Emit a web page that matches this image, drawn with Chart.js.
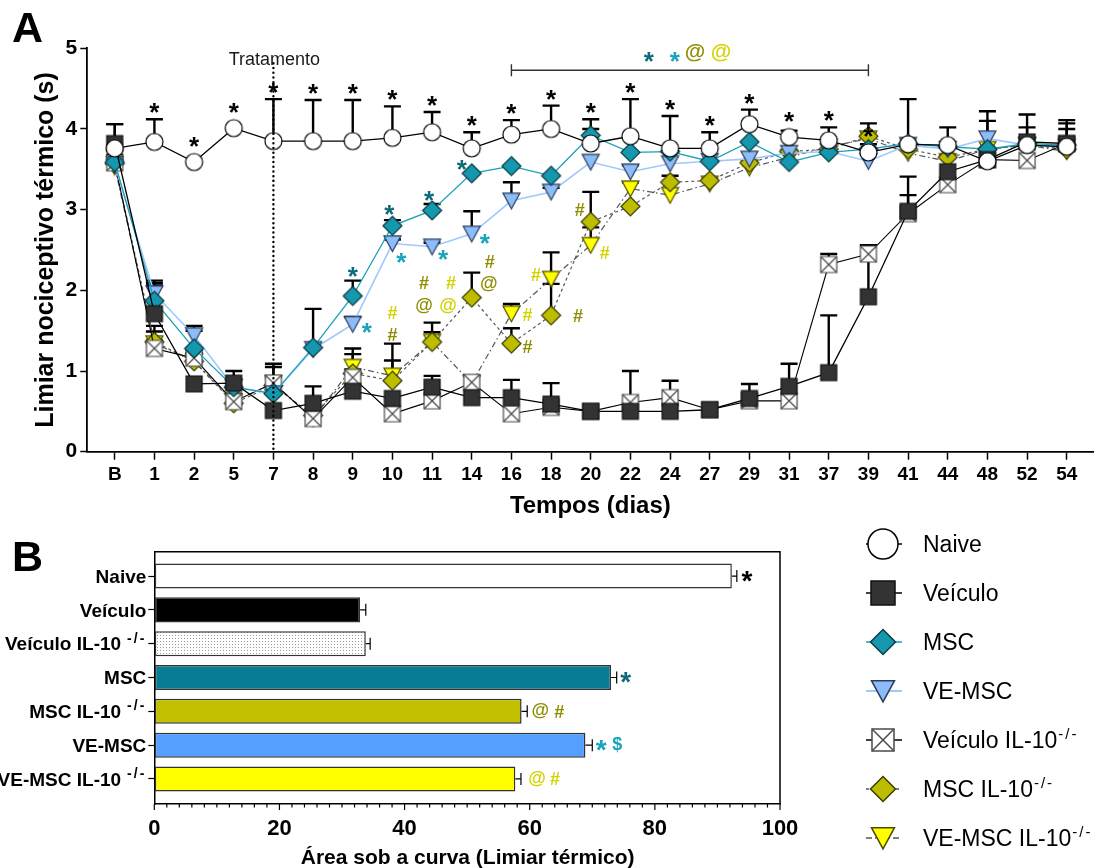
<!DOCTYPE html>
<html>
<head>
<meta charset="utf-8">
<script src="https://cdn.jsdelivr.net/npm/chart.js@4/dist/chart.umd.min.js"></script>
<style>
  html, body { margin: 0; padding: 0; background: #ffffff; }
  body { width: 1103px; height: 868px; position: relative; overflow: hidden; }
  #wrapA { position: absolute; left: 0; top: 0; width: 1103px; height: 520px; }
  #wrapB { position: absolute; left: 0; top: 520px; width: 1103px; height: 348px; }
</style>
</head>
<body>
<div id="wrapA"><canvas id="chartA"></canvas></div>
<div id="wrapB"><canvas id="chartB"></canvas></div>
<script>
const FONT = '"Liberation Sans", Arial, Helvetica, sans-serif';

// ---- Panel A: thermal nociceptive threshold over time (mean, upper SEM) ----
const days = ['B','1','2','5','7','8','9','10','11','14','16','18','20','22','24','27','29','31','37','39','41','44','48','52','54'];
const yTicks = [0, 1, 2, 3, 4, 5];

const naive      = [3.76,3.84,3.59,4.01,3.85,3.85,3.85,3.89,3.96,3.76,3.93,4.00,3.82,3.91,3.76,3.76,4.06,3.90,3.86,3.71,3.81,3.80,3.60,3.80,3.78];
const naiveSem   = [0.30,0.28,0,0,0.52,0.51,0.51,0.39,0.25,0.20,0.18,0.29,0.30,0.46,0.40,0.20,0.18,0.08,0.16,0.10,0.56,0.22,0.50,0.38,0.33];

const veiculo    = [3.82,1.71,0.84,0.85,0.51,0.60,0.75,0.66,0.80,0.67,0.67,0.59,0.50,0.50,0.50,0.52,0.66,0.81,0.98,1.92,2.98,3.47,3.62,3.84,3.82];
const veiculoSem = [0.24,0.41,0,0.15,0,0.21,0,0,0.14,0,0.22,0.26,0,0,0,0,0.18,0.28,0.71,0.64,0.20,0,0,0.18,0.25];

const msc        = [3.59,1.87,1.28,0.80,0.72,1.29,1.93,2.80,2.99,3.45,3.54,3.42,3.92,3.71,3.72,3.60,3.84,3.59,3.71,3.75,3.82,3.78,3.75,3.82,3.80];
const mscSem     = [0,0.22,0.22,0.10,0.20,0.48,0.19,0.07,0.08,0,0,0,0.08,0,0,0,0,0,0,0,0,0,0,0,0.20];

const veMsc      = [3.56,1.96,1.44,0.80,0.72,1.27,1.58,2.58,2.54,2.70,3.11,3.22,3.59,3.47,3.57,3.60,3.63,3.70,3.72,3.60,3.80,3.75,3.88,3.80,3.78];
const veMscSem   = [0,0.10,0.12,0,0,0,0.09,0.05,0.05,0.28,0.23,0.05,0,0.08,0,0,0,0,0,0,0,0,0.34,0,0];

const veiculoKO    = [3.58,1.28,1.16,0.62,0.85,0.41,0.92,0.47,0.63,0.86,0.47,0.55,0.50,0.61,0.67,0.52,0.63,0.63,2.32,2.45,2.95,3.31,3.62,3.61,3.82];
const veiculoKOSem = [0.10,0.10,0.10,0.10,0.24,0,0.10,0,0,0,0,0,0,0.39,0.21,0,0,0,0.13,0.11,0.46,0,0,0,0];

const mscKO      = [3.57,1.36,1.12,0.60,0.82,0.45,0.97,0.88,1.36,1.91,1.34,1.69,2.85,3.04,3.34,3.36,3.58,3.72,3.75,3.91,3.75,3.65,3.75,3.80,3.75];
const mscKOSem   = [0,0.20,0.10,0,0,0,0.24,0.46,0.24,0.31,0.19,0.39,0.37,0,0.08,0,0,0,0,0.16,0,0,0,0,0];

const veMscKO    = [3.53,1.34,1.12,0.62,0.85,0.41,1.05,0.94,1.36,0.85,1.71,2.14,2.56,3.26,3.18,3.32,3.52,3.65,3.78,3.88,3.70,3.60,3.75,3.80,3.72];
const veMscKOSem = [0,0.15,0.10,0,0.20,0,0.23,0.19,0.12,0.09,0.12,0.33,0.22,0.08,0,0,0,0,0,0,0,0,0,0,0];

// significance marks (days)
const naiveStarDays = ['1','2','5','7','8','9','10','11','14','16','18','20','22','24','27','29','31','37','39'];
const mscStarDays   = ['9','10','11','14'];
const veMscStarDays = ['9','10','11','14'];
const mscKOMarks    = [['10','#'],['11','#'],['11','@'],['14','#'],['14','@'],['16','#'],['18','#'],['20','#']];
const veMscKOMarks  = [['10','#'],['11','#'],['11','@'],['16','#'],['18','#'],['20','#']];
const bracketDays   = ['16','39'];
const bracketMarks  = ['*','*','@','@'];

// ---- Panel B: area under the curve ----
const groups   = ['Naive','Veículo','Veículo IL-10','MSC','MSC IL-10','VE-MSC','VE-MSC IL-10'];
const groupSup = ['','','-/-','','-/-','','-/-'];
const auc      = [92.3, 32.9, 33.8, 73.0, 58.7, 68.9, 57.7];
const aucSem   = [0.8, 0.9, 0.7, 0.9, 0.9, 1.1, 0.9];
const aucTicks = [0, 20, 40, 60, 80, 100];
const aucMarks = [['*'], [], [], ['*'], ['@','#'], ['*','$'], ['@','#']];

// ---- styles ----
const COL = { tealDark: '#0e6a7b', teal: '#1aa3ba', olive: '#8e8e00', yellow: '#d3d300' };

const series = [
  { key:'naive',     label:'Naive',         values:naive,     sem:naiveSem,     marker:'circle',  size:17, fill:'#ffffff', stroke:'#000000', line:'#000000', lw:1.3, dash:[] },
  { key:'veiculo',   label:'Veículo',       values:veiculo,   sem:veiculoSem,   marker:'square',  size:16, fill:'#333333', stroke:'#111111', line:'#000000', lw:1.3, dash:[] },
  { key:'msc',       label:'MSC',           values:msc,       sem:mscSem,       marker:'diamond', size:19, fill:'#1597ad', stroke:'#0b3b45', line:'#1aa0b6', lw:1.3, dash:[] },
  { key:'veMsc',     label:'VE-MSC',        values:veMsc,     sem:veMscSem,     marker:'tri',     size:17, fill:'#8dbcfb', stroke:'#2c3e58', line:'#9ec9ff', lw:1.6, dash:[] },
  { key:'veiculoKO', label:'Veículo IL-10', sup:'-/-', values:veiculoKO, sem:veiculoKOSem, marker:'xbox', size:16, fill:'#ffffff', stroke:'#4a4a4a', line:'#000000', lw:1.1, dash:[] },
  { key:'mscKO',     label:'MSC IL-10',     sup:'-/-', values:mscKO,     sem:mscKOSem,     marker:'diamond', size:19, fill:'#bdbd00', stroke:'#3c3c00', line:'#555555', lw:1.2, dash:[3,3] },
  { key:'veMscKO',   label:'VE-MSC IL-10',  sup:'-/-', values:veMscKO,   sem:veMscKOSem,   marker:'tri',     size:17, fill:'#ffff00', stroke:'#4d4d00', line:'#555555', lw:1.2, dash:[6,3,1.5,3] }
];
const legendMarkerSize = { circle:30, square:24, diamond:25, tri:23, xbox:22 };

// offsets (px) of significance marks from their data point
const markOffsets = {
  msc:     [[0,-24],[-3,-16],[-3,-14],[-10,-8]],
  veMsc:   [[14,4],[9,14],[11,8],[13,5]],
  mscKO:   [[0,-46],[-8,-59],[-8,-36],[18,-36],[17,-14],[16,3],[27,0],[-11,-12]],
  veMscKO: [[0,-63],[19,-59],[16,-36],[16,1],[-15,-5],[14,7]],
  bracket: [[-41,-13,COL.tealDark,26],[-15,-13,COL.teal,26],[5,-17,COL.olive,21],[31,-17,COL.yellow,21]]
};
const aucMarkStyle = [
  [[10,'#000000',28]], [], [], [[9,COL.tealDark,28]],
  [[13,COL.olive,18],[32,COL.olive,18]],
  [[9,COL.teal,28],[25,COL.teal,18]],
  [[16,COL.yellow,18],[34,COL.yellow,18]]
];

// ---- drawing helpers ----
function drawMarker(g, kind, cx, cy, s, fill, stroke, lw) {
  const h = s / 2;
  g.save();
  g.setLineDash([]);
  g.fillStyle = fill; g.strokeStyle = stroke; g.lineWidth = lw;
  g.beginPath();
  if (kind === 'circle') g.arc(cx, cy, h, 0, Math.PI * 2);
  else if (kind === 'square' || kind === 'xbox') g.rect(cx - h, cy - h, s, s);
  else if (kind === 'diamond') { g.moveTo(cx, cy - h); g.lineTo(cx + h, cy); g.lineTo(cx, cy + h); g.lineTo(cx - h, cy); g.closePath(); }
  else if (kind === 'tri') { g.moveTo(cx - h, cy - h * 0.9); g.lineTo(cx + h, cy - h * 0.9); g.lineTo(cx, cy + h * 0.95); g.closePath(); }
  g.fill(); g.stroke();
  if (kind === 'xbox') {
    g.beginPath();
    g.moveTo(cx - h, cy - h); g.lineTo(cx + h, cy + h);
    g.moveTo(cx + h, cy - h); g.lineTo(cx - h, cy + h);
    g.stroke();
  }
  g.restore();
}
function markerCanvas(s) {
  const c = document.createElement('canvas');
  const n = Math.ceil(s.size + 4);
  c.width = n; c.height = n;
  drawMarker(c.getContext('2d'), s.marker, n / 2, n / 2, s.size, s.fill, s.stroke, 1.2);
  return c;
}
function inkText(ctx, txt, cx, cy, font, color) {
  ctx.save();
  ctx.font = font; ctx.fillStyle = color;
  ctx.textAlign = 'center'; ctx.textBaseline = 'alphabetic';
  const m = ctx.measureText(txt);
  ctx.fillText(txt, cx, cy + (m.actualBoundingBoxAscent - m.actualBoundingBoxDescent) / 2);
  ctx.restore();
}
function dotPattern() {
  const c = document.createElement('canvas');
  c.width = 3; c.height = 3;
  const g = c.getContext('2d');
  g.fillStyle = '#ffffff'; g.fillRect(0, 0, 3, 3);
  g.fillStyle = '#9a9a9a'; g.fillRect(1, 1, 1, 1);
  return g.createPattern(c, 'repeat');
}

Chart.defaults.font.family = FONT;
Chart.defaults.color = '#000000';

// ---- Panel A plugins ----
const errorBarsA = {
  id: 'errorBarsA',
  beforeDatasetsDraw(chart) {
    const { ctx, scales: { x, y } } = chart;
    ctx.save();
    ctx.strokeStyle = '#000000'; ctx.lineWidth = 2.4; ctx.setLineDash([]);
    chart.data.datasets.forEach(ds => {
      ds.sem.forEach((e, i) => {
        if (!e) return;
        const v = ds.data[i].y;
        const px = x.getPixelForValue(i), p0 = y.getPixelForValue(v), p1 = y.getPixelForValue(v + e);
        ctx.beginPath();
        ctx.moveTo(px, p0); ctx.lineTo(px, p1);
        ctx.moveTo(px - 8.5, p1); ctx.lineTo(px + 8.5, p1);
        ctx.stroke();
      });
    });
    ctx.restore();
  }
};

const decorA = {
  id: 'decorA',
  afterDraw(chart) {
    const { ctx, chartArea: ca, scales: { x, y } } = chart;
    const xd = d => x.getPixelForValue(days.indexOf(d));
    const pt = (vals, d) => y.getPixelForValue(vals[days.indexOf(d)]);

    // panel letter
    inkText(ctx, 'A', 27.5, 27.5, `bold 43px ${FONT}`, '#000');

    // axis titles
    ctx.save();
    ctx.font = `bold 25px ${FONT}`; ctx.fillStyle = '#000';
    ctx.textAlign = 'center'; ctx.textBaseline = 'alphabetic';
    ctx.translate(53, (ca.top + ca.bottom) / 2);
    ctx.rotate(-Math.PI / 2);
    ctx.fillText('Limiar nociceptivo térmico (s)', 0, 0);
    ctx.restore();
    inkText(ctx, 'Tempos (dias)', (ca.left + ca.right) / 2, 506, `bold 24px ${FONT}`, '#000');

    // treatment marker
    const xt = xd('7');
    ctx.save();
    ctx.strokeStyle = '#000'; ctx.lineWidth = 2.4; ctx.lineCap = 'round';
    ctx.setLineDash([0.1, 4.6]);
    ctx.beginPath(); ctx.moveTo(xt, ca.top + 15); ctx.lineTo(xt, ca.bottom); ctx.stroke();
    ctx.restore();
    inkText(ctx, 'Tratamento', xt + 1, 58, `18px ${FONT}`, '#1a1a1a');

    // Naive vs. Veículo
    naiveStarDays.forEach(d => {
      const i = days.indexOf(d);
      const top = Math.min(y.getPixelForValue(naive[i] + naiveSem[i]), y.getPixelForValue(naive[i]) - 9);
      inkText(ctx, '*', xd(d), top - 11, `bold 26px ${FONT}`, '#000');
    });
    mscStarDays.forEach((d, k) => {
      const o = markOffsets.msc[k];
      inkText(ctx, '*', xd(d) + o[0], pt(msc, d) + o[1], `bold 26px ${FONT}`, COL.tealDark);
    });
    veMscStarDays.forEach((d, k) => {
      const o = markOffsets.veMsc[k];
      inkText(ctx, '*', xd(d) + o[0], pt(veMsc, d) + o[1], `bold 26px ${FONT}`, COL.teal);
    });
    mscKOMarks.forEach(([d, s], k) => {
      const o = markOffsets.mscKO[k];
      inkText(ctx, s, xd(d) + o[0], pt(mscKO, d) + o[1], `bold 18px ${FONT}`, COL.olive);
    });
    veMscKOMarks.forEach(([d, s], k) => {
      const o = markOffsets.veMscKO[k];
      inkText(ctx, s, xd(d) + o[0], pt(veMscKO, d) + o[1], `bold 18px ${FONT}`, COL.yellow);
    });

    // bracket over the recovery window
    const bx0 = xd(bracketDays[0]), bx1 = xd(bracketDays[1]), by = ca.top + 22;
    ctx.save();
    ctx.strokeStyle = '#333'; ctx.lineWidth = 1.4;
    ctx.beginPath();
    ctx.moveTo(bx0, by); ctx.lineTo(bx1, by);
    ctx.moveTo(bx0, by - 6); ctx.lineTo(bx0, by + 6);
    ctx.moveTo(bx1, by - 6); ctx.lineTo(bx1, by + 6);
    ctx.stroke();
    ctx.restore();
    const bc = (bx0 + bx1) / 2;
    bracketMarks.forEach((s, k) => {
      const [dx, dy, col, sz] = markOffsets.bracket[k];
      inkText(ctx, s, bc + dx, by + dy, `bold ${sz}px ${FONT}`, col);
    });
  }
};

const chartA = new Chart(document.getElementById('chartA'), {
  type: 'line',
  data: {
    datasets: series.map(s => ({
      label: s.label,
      data: s.values.map((v, i) => ({ x: i, y: v })),
      sem: s.sem,
      borderColor: s.line,
      borderWidth: s.lw,
      borderDash: s.dash,
      backgroundColor: s.fill,
      pointStyle: markerCanvas(s),
      pointRadius: 8,
      pointHoverRadius: 8,
      tension: 0,
      fill: false,
      clip: false
    }))
  },
  options: {
    responsive: true,
    maintainAspectRatio: false,
    animation: false,
    events: [],
    layout: { padding: { left: 0, top: 48.3, right: 8, bottom: 0 } },
    plugins: { legend: { display: false }, tooltip: { enabled: false } },
    scales: {
      x: {
        type: 'linear', min: -0.692, max: 24.672,
        afterBuildTicks: s => { s.ticks = days.map((d, i) => ({ value: i })); },
        afterFit: s => { s.height = 68.3; },
        ticks: { autoSkip: false, maxRotation: 0, padding: 4, font: { size: 19, weight: 'bold' }, color: '#000', callback: v => days[v] },
        grid: { drawOnChartArea: false, drawTicks: true, tickLength: 8, tickColor: '#000', tickWidth: 1.5 },
        border: { color: '#000', width: 1.8 }
      },
      y: {
        type: 'linear', min: 0, max: 5,
        afterBuildTicks: s => { s.ticks = yTicks.map(v => ({ value: v })); },
        afterFit: s => { s.width = 87.3; },
        ticks: { padding: 3, font: { size: 21, weight: 'bold' }, color: '#000' },
        grid: { drawOnChartArea: false, drawTicks: true, tickLength: 7, tickColor: '#000', tickWidth: 1.5 },
        border: { color: '#000', width: 1.8 }
      }
    }
  },
  plugins: [errorBarsA, decorA]
});

// ---- Panel B plugins ----
const decorB = {
  id: 'decorB',
  afterDatasetsDraw(chart) {
    const { ctx, scales: { x, y } } = chart;
    ctx.save();
    ctx.strokeStyle = '#000'; ctx.lineWidth = 1.2;
    auc.forEach((v, i) => {
      const py = y.getPixelForValue(i), p0 = x.getPixelForValue(v), p1 = x.getPixelForValue(v + aucSem[i]);
      ctx.beginPath();
      ctx.moveTo(p0, py); ctx.lineTo(p1, py);
      ctx.moveTo(p1, py - 6); ctx.lineTo(p1, py + 6);
      ctx.stroke();
      aucMarks[i].forEach((s, k) => {
        const [dx, col, sz] = aucMarkStyle[i][k];
        inkText(ctx, s, p1 + dx, py, `bold ${sz}px ${FONT}`, col);
      });
    });
    ctx.restore();
  },
  afterDraw(chart) {
    const { ctx, chartArea: ca, scales: { x, y } } = chart;
    // frame (top and right)
    ctx.save();
    ctx.strokeStyle = '#000'; ctx.lineWidth = 1.5;
    ctx.beginPath();
    ctx.moveTo(ca.left, ca.top); ctx.lineTo(ca.right, ca.top); ctx.lineTo(ca.right, ca.bottom);
    ctx.stroke();
    // x tick marks: major every 20, minor every 2
    ctx.lineWidth = 1.2;
    for (let v = 0; v <= 100; v += 2) {
      const px = x.getPixelForValue(v);
      const len = v % 20 === 0 ? 6 : 3.5;
      ctx.beginPath(); ctx.moveTo(px, ca.bottom); ctx.lineTo(px, ca.bottom + len); ctx.stroke();
    }
    ctx.restore();

    // group labels with superscripts
    ctx.save();
    ctx.fillStyle = '#000'; ctx.textAlign = 'right'; ctx.textBaseline = 'alphabetic';
    groups.forEach((g, i) => {
      const py = y.getPixelForValue(i);
      let right = ca.left - 8;
      if (groupSup[i]) {
        ctx.font = `bold 14px ${FONT}`;
        ctx.letterSpacing = '2px';
        const w = ctx.measureText(groupSup[i]).width;
        ctx.fillText(groupSup[i], right, py - 1);
        ctx.letterSpacing = '0px';
        right -= w + 6;
      }
      ctx.font = `bold 19px ${FONT}`;
      ctx.fillText(g, right, py + 6.8);
    });
    ctx.restore();

    // titles
    inkText(ctx, 'Área sob a curva (Limiar térmico)', (ca.left + ca.right) / 2 + 0.5, 337, `bold 21px ${FONT}`, '#000');
    inkText(ctx, 'B', 27.5, 36, `bold 43px ${FONT}`, '#000');

    // legend for panel A
    const lx = 883, ly0 = 24, step = 49;
    series.forEach((s, k) => {
      const cy = ly0 + k * step;
      ctx.save();
      ctx.strokeStyle = s.line; ctx.lineWidth = s.key === 'veMsc' ? 2 : 1.5;
      ctx.setLineDash(s.dash);
      ctx.beginPath(); ctx.moveTo(lx - 17, cy); ctx.lineTo(lx + 19, cy); ctx.stroke();
      ctx.restore();
      drawMarker(ctx, s.marker, lx, cy, legendMarkerSize[s.marker], s.fill, s.stroke, 1.5);
      ctx.save();
      ctx.fillStyle = '#000'; ctx.textAlign = 'left'; ctx.textBaseline = 'alphabetic';
      ctx.font = `23px ${FONT}`;
      const base = cy + 0.716 * 23 / 2;
      ctx.fillText(s.label, 923, base);
      if (s.sup) {
        const w = ctx.measureText(s.label).width;
        ctx.font = `15px ${FONT}`;
        ctx.letterSpacing = '2px';
        ctx.fillText(s.sup, 923 + w + 1, base - 9);
      }
      ctx.restore();
    });
  }
};

const barFills = ['#ffffff', '#000000', dotPattern(), '#087c95', '#c0c000', '#55a0ff', '#ffff00'];

const chartB = new Chart(document.getElementById('chartB'), {
  type: 'bar',
  data: {
    datasets: [{
      data: auc.map((v, i) => ({ x: v, y: i })),
      backgroundColor: barFills,
      borderColor: '#333333',
      borderWidth: 1.5,
      borderSkipped: false,
      barPercentage: 0.74,
      categoryPercentage: 1
    }]
  },
  options: {
    indexAxis: 'y',
    responsive: true,
    maintainAspectRatio: false,
    animation: false,
    events: [],
    layout: { padding: { left: 0, top: 31.7, right: 323, bottom: 0 } },
    plugins: { legend: { display: false }, tooltip: { enabled: false } },
    scales: {
      x: {
        type: 'linear', min: 0, max: 100,
        afterBuildTicks: s => { s.ticks = aucTicks.map(v => ({ value: v })); },
        afterFit: s => { s.height = 64; },
        ticks: { padding: 12, font: { size: 22, weight: 'bold' }, color: '#000', maxRotation: 0 },
        grid: { drawOnChartArea: false, drawTicks: false },
        border: { color: '#000', width: 1.5 }
      },
      y: {
        type: 'linear', reverse: true, min: -0.72, max: 6.74, offset: false,
        afterBuildTicks: s => { s.ticks = groups.map((g, i) => ({ value: i })); },
        afterFit: s => { s.width = 154.3; },
        ticks: { callback: () => '', padding: 0 },
        grid: { offset: false, drawOnChartArea: false, drawTicks: true, tickLength: 6, tickColor: '#000', tickWidth: 1.2 },
        border: { color: '#000', width: 1.5 }
      }
    }
  },
  plugins: [decorB]
});
</script>
</body>
</html>
